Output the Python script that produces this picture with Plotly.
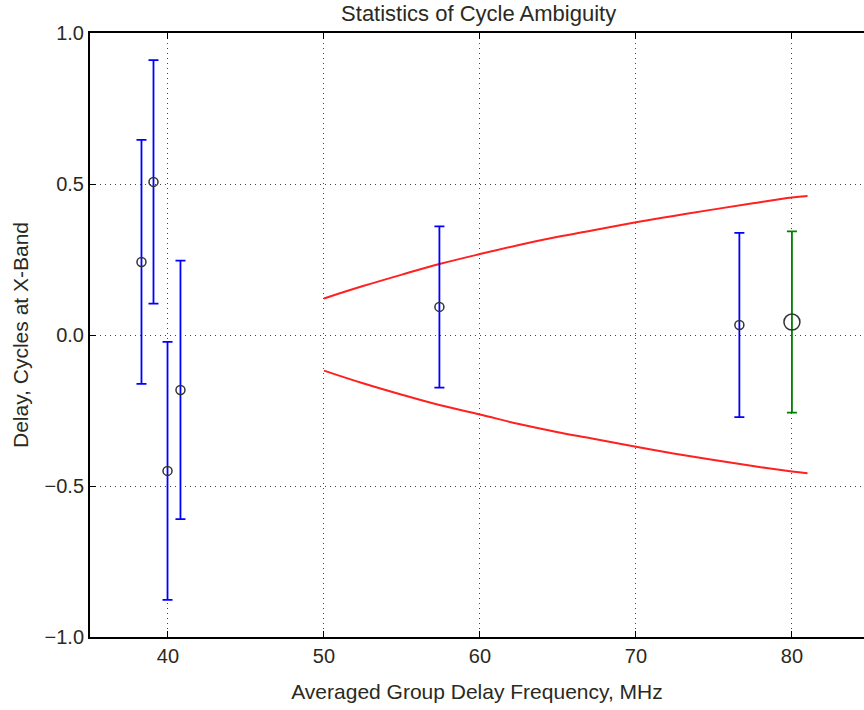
import plotly.graph_objects as go

# Measurement points (blue)
freq_blue = [38.3, 39.07, 39.97, 40.8, 57.4, 76.63]
delay_blue = [0.242, 0.507, -0.450, -0.182, 0.093, 0.033]
err_blue = [0.404, 0.403, 0.427, 0.428, 0.267, 0.305]

# Averaged point (green)
freq_green = [80.0]
delay_green = [0.043]
err_green = [0.300]

# Ambiguity envelope (red)
env_freq = [50, 52.5, 55, 57.4, 60, 62.5, 65, 67.1, 70, 72.5, 75, 77.5, 80, 81]
env_upper = [0.121, 0.162, 0.200, 0.235, 0.268, 0.298, 0.325, 0.345, 0.373,
             0.395, 0.416, 0.436, 0.455, 0.460]
env_lower = [-0.118, -0.160, -0.198, -0.232, -0.263, -0.295, -0.322, -0.342,
             -0.370, -0.393, -0.414, -0.434, -0.452, -0.458]

x_ticks = [40, 50, 60, 70, 80]
y_ticks = [-1.0, -0.5, 0.0, 0.5, 1.0]

font_family = "Liberation Sans, Arial, sans-serif"
text_color = "#2a2a22"

fig = go.Figure()

fig.add_trace(go.Scatter(x=env_freq, y=env_upper, mode="lines", line_shape="spline",
                         line=dict(color="#ff2020", width=2), showlegend=False))
fig.add_trace(go.Scatter(x=env_freq, y=env_lower, mode="lines", line_shape="spline",
                         line=dict(color="#ff2020", width=2), showlegend=False))

fig.add_trace(go.Scatter(
    x=freq_blue, y=delay_blue, mode="markers",
    error_y=dict(type="data", array=err_blue, color="#0000ff", thickness=1.8, width=5),
    marker=dict(symbol="circle-open", size=9, color="#333333", line=dict(width=1.5)),
    showlegend=False))

fig.add_trace(go.Scatter(
    x=freq_green, y=delay_green, mode="markers",
    error_y=dict(type="data", array=err_green, color="#008000", thickness=1.8, width=5),
    marker=dict(symbol="circle-open", size=16, color="#333333", line=dict(width=1.5)),
    showlegend=False))

axis_common = dict(
    showline=True, linecolor="black", linewidth=2,
    ticks="inside", ticklen=6, tickcolor="black", tickwidth=1,
    showgrid=True, gridcolor="#444444", griddash="1px,4px", gridwidth=1.2,
    zeroline=False,
    tickfont=dict(family=font_family, size=20, color=text_color),
)

fig.update_xaxes(range=[35, 84.62], tickvals=x_ticks, mirror="ticks",
                 title=dict(text="Averaged Group Delay Frequency, MHz",
                            font=dict(family=font_family, size=21, color=text_color),
                            standoff=18),
                 **axis_common)
fig.update_yaxes(range=[-1.0, 1.0], tickvals=y_ticks, tickformat=".1f", mirror=False,
                 title=dict(text="Delay, Cycles at X-Band",
                            font=dict(family=font_family, size=21, color=text_color),
                            standoff=10),
                 **axis_common)

fig.update_layout(
    width=864, height=710,
    margin=dict(l=90, r=0, t=33, b=73),
    plot_bgcolor="white", paper_bgcolor="white",
    title=dict(text="Statistics of Cycle Ambiguity", x=0.554, xanchor="center",
               y=0.9815, yanchor="middle",
               font=dict(family=font_family, size=22, color=text_color)),
)

fig.write_html("out.html",
               config={"displayModeBar": False},
               post_script="document.body.style.margin='0';document.body.style.overflow='hidden';")
